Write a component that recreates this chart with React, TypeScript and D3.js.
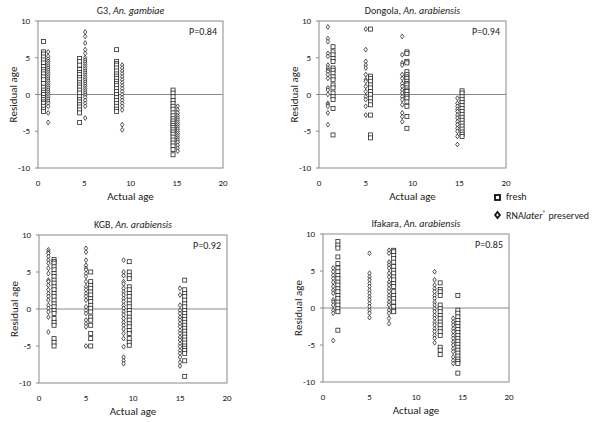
import React from "react";
import * as d3 from "d3";

// ---------- data ----------
const xTicks = [0, 5, 10, 15, 20];
const yTicks = [10, 5, 0, -5, -10];

const g3FreshAges = [0.6, 4.5, 8.5, 14.6];
const g3FreshRes = [
  [7.2, 5.8, 5.5, 5.1, 4.7, 4.3, 3.8, 3.4, 3.1, 2.8, 2.4, 2.0, 1.5, 1.0, 0.6, 0.3, 0, -0.4, -0.7, -1.0, -1.2, -1.6, -2.0, -2.3],
  [4.9, 4.5, 4.0, 3.4, 3.0, 2.7, 2.3, 2.0, 1.6, 1.3, 1.0, 0.6, 0.2, -0.3, -0.7, -1.0, -1.4, -1.7, -2.1, -2.5, -3.8],
  [6.1, 4.5, 4.2, 4.0, 3.6, 3.2, 2.8, 2.5, 2.2, 1.8, 1.5, 1.2, 0.8, 0.4, 0, -0.4, -0.8, -1.2, -1.6, -2.0, -2.3],
  [0.6, 0.2, -0.3, -0.8, -1.2, -1.6, -2.0, -2.5, -2.9, -3.3, -3.6, -3.9, -4.2, -4.5, -4.8, -5.1, -5.4, -5.8, -6.2, -6.6, -7.0, -7.5, -8.2],
];
const g3RnaAges = [1.1, 5.1, 9.1, 15.1];
const g3RnaRes = [
  [5.8, 5.2, 4.8, 4.5, 4.2, 3.9, 3.6, 3.3, 3.0, 2.7, 2.4, 2.1, 1.8, 1.5, 1.2, 0.9, 0.6, 0.3, 0, -0.3, -0.6, -0.9, -1.2, -1.6, -2.5, -3.8],
  [8.5, 7.9, 7.0, 6.1, 5.6, 5.0, 4.7, 4.4, 4.1, 3.8, 3.5, 3.2, 2.9, 2.6, 2.3, 2.0, 1.7, 1.4, 1.1, 0.8, 0.5, 0.2, -0.1, -0.4, -0.8, -1.2, -1.6, -3.2],
  [4.0, 3.6, 3.2, 2.8, 2.4, 2.0, 1.6, 1.2, 0.8, 0.4, 0, -0.4, -0.8, -1.2, -1.6, -2.1, -4.1, -4.8],
  [-1.6, -2.1, -2.5, -2.9, -3.2, -3.5, -3.8, -4.1, -4.4, -4.7, -5.0, -5.3, -5.6, -5.9, -6.2, -6.5, -6.9, -7.3, -7.7],
];

const dongolaFreshAges = [1.5, 5.5, 9.4, 15.3];
const dongolaFreshRes = [
  [6.5, 5.8, 5.4, 4.9, 4.5, 3.6, 3.3, 2.9, 2.4, 2.0, 1.3, 0.9, 0.2, -0.3, -0.7, -1.9, -5.5],
  [8.9, 2.5, 2.2, 1.8, 1.3, 0.9, 0.4, 0, -0.5, -1.0, -1.4, -2.8, -5.5, -5.9],
  [5.8, 5.6, 4.5, 4.3, 3.1, 2.7, 2.4, 2.2, 1.8, 1.5, 1.3, 0.9, 0.6, 0.4, 0, -0.3, -0.5, -1.0, -1.6, -3.0, -4.6],
  [0.5, 0.2, -0.3, -0.7, -1.1, -1.5, -1.9, -2.3, -2.7, -3.1, -3.5, -3.9, -4.3, -4.7, -5.1, -5.4, -5.7],
];
const dongolaRnaAges = [0.95, 5.0, 8.9, 14.8];
const dongolaRnaRes = [
  [9.2, 7.6, 7.2, 5.6, 5.2, 4.0, 3.6, 3.3, 3.1, 2.7, 2.2, 0.9, 0.6, 0, -1.2, -1.4, -1.6, -2.5, -4.1],
  [8.9, 6.1, 4.5, 4.0, 3.6, 2.7, 2.0, 1.8, 1.1, 0.4, -0.3, -0.7, -1.6, -2.8],
  [7.9, 5.4, 4.3, 4.0, 2.7, 2.2, 1.5, 1.1, 0.6, 0.2, -0.3, -0.7, -1.4, -2.5, -3.0, -3.7],
  [-0.5, -1.2, -1.6, -2.0, -2.3, -2.8, -3.2, -3.7, -4.1, -4.6, -5.0, -5.7, -6.8],
];

const kgbFreshAges = [1.6, 5.5, 9.6, 15.5];
const kgbFreshRes = [
  [6.7, 6.4, 6.2, 5.7, 5.3, 4.8, 4.4, 3.9, 3.5, 3.0, 2.6, 2.1, 1.7, 1.2, 0.7, 0.3, -0.2, -0.6, -1.3, -1.8, -2.2, -4.0, -4.5, -5.0],
  [5.0, 3.7, 3.2, 2.8, 2.3, 1.9, 1.4, 1.0, 0.5, 0.1, -0.4, -1.1, -1.5, -2.2, -3.3, -4.0, -5.0],
  [6.4, 5.0, 4.5, 4.1, 3.0, 2.6, 2.1, 1.7, 1.2, 0.7, 0.3, -0.2, -0.6, -1.1, -1.5, -2.0, -2.4, -2.9, -3.3, -4.0, -4.5, -4.9],
  [3.9, 2.6, 2.1, 1.7, 1.2, 0.7, 0.3, -0.2, -0.6, -1.0, -1.4, -1.8, -2.2, -2.6, -3.0, -3.4, -3.8, -4.2, -4.6, -5.0, -5.3, -5.6, -6.0, -7.0, -9.1],
];
const kgbRnaAges = [1.0, 5.0, 9.0, 15.0];
const kgbRnaRes = [
  [8.0, 7.7, 7.5, 7.1, 6.6, 6.2, 5.5, 4.8, 3.9, 3.7, 3.2, 2.6, 2.1, 1.7, 1.2, 0.5, 0.1, -0.4, -1.1, -3.1],
  [8.2, 7.7, 6.6, 5.9, 5.5, 5.3, 4.8, 4.4, 3.7, 3.0, 2.6, 2.1, 1.7, 1.2, 0.3, -0.2, -0.6, -1.5, -2.0, -2.4, -5.0],
  [6.6, 5.0, 4.5, 3.7, 3.4, 2.8, 2.3, 1.9, 1.4, 1.0, 0.5, 0.1, -0.4, -0.8, -1.3, -1.8, -2.2, -2.7, -3.3, -4.0, -5.1, -6.5, -7.0, -7.4],
  [2.8, 1.9, 0.5, -0.2, -0.6, -1.1, -1.5, -2.0, -2.4, -2.9, -3.3, -3.8, -4.2, -4.7, -5.1, -5.6, -6.0, -6.5, -7.2, -7.7],
];

const ifakaraFreshAges = [1.6, 7.6, 12.6, 14.5];
const ifakaraFreshRes = [
  [9.0, 8.5, 8.1, 6.9, 6.0, 5.4, 4.9, 4.4, 4.0, 3.5, 3.1, 2.6, 2.2, 1.7, 1.3, 0.8, 0.4, -0.1, -0.5, -3.0],
  [7.8, 7.6, 7.1, 6.7, 6.2, 5.6, 5.1, 4.7, 4.2, 3.8, 3.3, 2.9, 2.2, 1.7, 1.3, 0.8, 0.2, -0.3, -0.5],
  [3.4, 2.5, 2.2, 1.7, 0.4, -0.1, -0.5, -1.0, -1.4, -1.9, -2.3, -2.8, -3.2, -3.7, -5.3, -5.7, -6.3],
  [1.7, -0.3, -0.7, -1.2, -1.7, -2.1, -2.5, -2.9, -3.3, -3.7, -4.1, -4.5, -4.9, -5.3, -5.7, -6.1, -6.5, -6.9, -7.2, -7.5, -8.8],
];
const ifakaraRnaAges = [1.1, 5.0, 7.1, 12.0, 14.0];
const ifakaraRnaRes = [
  [5.4, 4.9, 4.4, 4.0, 3.5, 2.9, 2.4, 2.0, 1.1, 0.8, 0.4, -0.3, -0.7, -4.4],
  [7.4, 4.7, 4.2, 3.8, 3.3, 2.9, 2.4, 2.0, 1.5, 1.1, 0.6, 0.2, -0.3, -0.7, -1.3],
  [7.8, 7.4, 6.2, 5.8, 5.4, 4.7, 4.2, 3.5, 3.1, 2.6, 2.2, 1.7, 1.3, 0.8, 0.4, -0.3, -0.7, -1.4, -2.1],
  [4.9, 3.8, 3.1, 2.6, 2.2, 1.7, 1.3, 0.8, 0.4, -0.1, -0.5, -1.0, -1.4, -1.9, -2.3, -2.8, -3.2, -3.7, -4.1, -4.7],
  [-1.4, -1.9, -2.3, -2.8, -3.2, -3.7, -4.1, -4.6, -5.0, -5.5, -5.9, -6.6, -7.1, -7.5],
];

// ---------- drawing ----------
const FONT = "Carlito, Lato, 'Liberation Sans', sans-serif";
const AXIS = "#8a8a8a";
const MARK = "#2a2a2a";

type PanelProps = {
  left: number; right: number; top: number; bottom: number;
  site: string; species: string; p: string;
  freshAges: number[]; freshRes: number[][];
  rnaAges: number[]; rnaRes: number[][];
};

const diamond = "M0,-2.4L1.7,0L0,2.4L-1.7,0Z";

function Panel(props: PanelProps) {
  const { left, right, top, bottom } = props;
  const x = d3.scaleLinear().domain([0, 20]).range([left, right]);
  const y = d3.scaleLinear().domain([-10, 10]).range([bottom, top]);
  const cx = (left + right) / 2;
  const cy = (top + bottom) / 2;
  return (
    <g>
      <rect x={left} y={top} width={right - left} height={bottom - top} fill="white" stroke={AXIS} strokeWidth={1} />
      <line x1={left} x2={right} y1={y(0)} y2={y(0)} stroke={AXIS} strokeWidth={1} />
      {yTicks.map((t) => (
        <g key={"y" + t}>
          <line x1={left - 3} x2={left} y1={y(t)} y2={y(t)} stroke={AXIS} />
          <text x={left - 8} y={y(t) + 3} fontSize={9} textAnchor="end" fontFamily={FONT} fill="#222">{t}</text>
        </g>
      ))}
      {xTicks.map((t) => (
        <text key={"x" + t} x={x(t)} y={bottom + 18} fontSize={9} textAnchor="middle" fontFamily={FONT} fill="#222">{t}</text>
      ))}
      <text x={cx} y={bottom + 32} fontSize={11} textAnchor="middle" fontFamily={FONT} fill="#222">Actual age</text>
      <text transform={`translate(${left - 21},${cy}) rotate(-90)`} fontSize={11} textAnchor="middle" fontFamily={FONT} fill="#222">Residual age</text>
      <text x={cx} y={top - 7} fontSize={10} textAnchor="middle" fontFamily={FONT} fill="#222">
        {props.site}, <tspan fontStyle="italic">{props.species}</tspan>
      </text>
      <text x={right - 6} y={top + 14} fontSize={10} textAnchor="end" fontFamily={FONT} fill="#222">{props.p}</text>
      {props.rnaAges.map((a, i) =>
        props.rnaRes[i].map((r, j) => (
          <path key={`r${i}-${j}`} d={diamond} transform={`translate(${x(a)},${y(r)})`} fill="white" stroke={MARK} strokeWidth={0.8} />
        ))
      )}
      {props.freshAges.map((a, i) =>
        props.freshRes[i].map((r, j) => (
          <rect key={`f${i}-${j}`} x={x(a) - 2} y={y(r) - 2} width={4} height={4} fill="white" stroke={MARK} strokeWidth={0.8} />
        ))
      )}
    </g>
  );
}

export default function App() {
  return (
    <svg width={600} height={422} style={{ position: "absolute", left: 0, top: 0, background: "white" }}>
      <rect width={600} height={422} fill="white" />
      <Panel left={38} right={223} top={21} bottom={168} site="G3" species="An. gambiae" p="P=0.84"
        freshAges={g3FreshAges} freshRes={g3FreshRes} rnaAges={g3RnaAges} rnaRes={g3RnaRes} />
      <Panel left={319} right={506} top={21} bottom={168} site="Dongola" species="An. arabiensis" p="P=0.94"
        freshAges={dongolaFreshAges} freshRes={dongolaFreshRes} rnaAges={dongolaRnaAges} rnaRes={dongolaRnaRes} />
      <Panel left={39} right={227} top={235} bottom={383} site="KGB" species="An. arabiensis" p="P=0.92"
        freshAges={kgbFreshAges} freshRes={kgbFreshRes} rnaAges={kgbRnaAges} rnaRes={kgbRnaRes} />
      <Panel left={323} right={509} top={234} bottom={382} site="Ifakara" species="An. arabiensis" p="P=0.85"
        freshAges={ifakaraFreshAges} freshRes={ifakaraFreshRes} rnaAges={ifakaraRnaAges} rnaRes={ifakaraRnaRes} />
      {/* legend */}
      <rect x={495} y={195} width={5} height={5} fill="white" stroke="#111" strokeWidth={1.8} />
      <text x={506} y={200} fontSize={10} fontFamily={FONT} fill="#222">fresh</text>
      <path d="M0,-3L2.4,0L0,3L-2.4,0Z" transform="translate(497.5,215)" fill="white" stroke="#111" strokeWidth={1.8} />
      <text x={506} y={219} fontSize={10} fontFamily={FONT} fill="#222">
        RNA<tspan fontStyle="italic">later</tspan><tspan fontSize={7} dy={-3}>®</tspan><tspan dy={3}> preserved</tspan>
      </text>
    </svg>
  );
}
